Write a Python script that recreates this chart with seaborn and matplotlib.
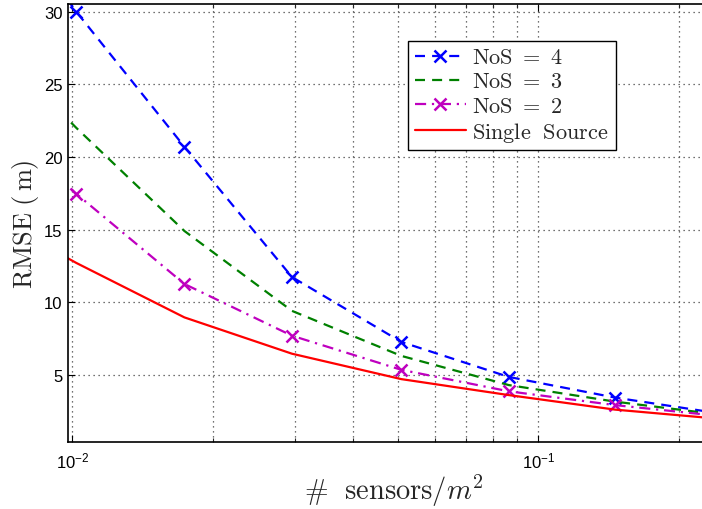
import numpy as np
import pandas as pd
import matplotlib
matplotlib.use("Agg")
import matplotlib.pyplot as plt
import seaborn as sns
from matplotlib.ticker import LogLocator, NullFormatter, FixedLocator

# ---- data ----
density = [0.0060, 0.0102, 0.0174, 0.0296, 0.0508, 0.0864, 0.146, 0.248]
rmse_nos4 = [40.0, 30.0, 20.7, 11.73, 7.26, 4.85, 3.43, 2.31]
rmse_nos3 = [29.5, 22.0, 14.9, 9.4, 6.3, 4.29, 3.15, 2.23]
rmse_nos2 = [24.4, 17.46, 11.25, 7.69, 5.34, 3.86, 2.91, 2.14]
rmse_single = [16.8, 12.7, 8.95, 6.45, 4.7, 3.6, 2.6, 1.95]

series_labels = [r"$\mathrm{NoS}\ =\ 4$", r"$\mathrm{NoS}\ =\ 3$",
                 r"$\mathrm{NoS}\ =\ 2$", r"$\mathrm{Single\ \ Source}\ \ $"]
y_ticks = [5, 10, 15, 20, 25, 30]
x_ticks = [0.01, 0.1]

sns.set_theme(style="white")
plt.rcParams["font.family"] = ["Liberation Sans", "DejaVu Sans"]
plt.rcParams["mathtext.fontset"] = "cm"

fig = plt.figure(figsize=(7.02, 5.10), dpi=100)
# the plotting box runs slightly past the right edge of the image
ax = fig.add_axes([68 / 702, 1 - 443 / 510, (720 - 68) / 702, (443 - 4.7) / 510])

styles = [
    dict(color=(0, 0, 1), linestyle=(0, (4.5, 3.2)), marker="x"),
    dict(color=(0, 0.5, 0), linestyle=(0, (4.5, 3.2)), marker=None),
    dict(color=(0.75, 0, 0.75), linestyle=(0, (5, 2.6, 1, 2.6)), marker="x"),
    dict(color=(1, 0, 0), linestyle="-", marker=None),
]
all_series = [rmse_nos4, rmse_nos3, rmse_nos2, rmse_single]

for vals, lab, st in zip(all_series, series_labels, styles):
    df = pd.DataFrame({"x": density, "y": vals})
    kw = dict(color=st["color"], linestyle=st["linestyle"], linewidth=1.6, label=lab)
    if st["marker"]:
        kw.update(marker="x", markersize=9, markeredgewidth=1.8,
                  markeredgecolor=st["color"])
    sns.lineplot(data=df, x="x", y="y", ax=ax, sort=False, estimator=None, **kw)

ax.set_xscale("log")
ax.set_xlim(0.00979, 0.2453)
ax.set_ylim(0.37, 30.55)
ax.set_yticks(y_ticks)
ax.xaxis.set_major_locator(FixedLocator(x_ticks))
ax.xaxis.set_minor_locator(LogLocator(base=10, subs=np.arange(2, 10)))
ax.xaxis.set_minor_formatter(NullFormatter())

ax.grid(True, which="major", axis="both", linestyle=(0, (1, 3)), color="#444444", linewidth=0.9)
ax.grid(True, which="minor", axis="x", linestyle=(0, (1, 3)), color="#444444", linewidth=0.9)

ax.tick_params(axis="both", which="major", direction="in", length=5, width=0.8,
               labelsize=12, colors="black", top=True, bottom=True, left=True)
ax.tick_params(axis="x", which="minor", direction="in", length=3, width=0.8,
               top=True, bottom=True)
ax.tick_params(axis="y", pad=4)
ax.tick_params(axis="x", pad=6)

for side in ["left", "top", "bottom"]:
    ax.spines[side].set_visible(True)
    ax.spines[side].set_color("black")
    ax.spines[side].set_linewidth(1.2)
ax.spines["right"].set_visible(False)

ax.set_xlabel(r"$\#\ \ \mathrm{sensors}/m^2$", fontsize=20.5, labelpad=1)
ax.set_ylabel(r"$\mathrm{RMSE\ (\,m)}$", fontsize=19, labelpad=2)

leg = ax.legend(loc="upper left", bbox_to_anchor=(408 / 702, 1 - 41.7 / 510),
                bbox_transform=fig.transFigure, borderaxespad=0, fontsize=16,
                frameon=True, fancybox=False, edgecolor="black", framealpha=1,
                handlelength=2.3, handletextpad=0.3, labelspacing=0.14,
                borderpad=0.3, numpoints=1)
leg.get_frame().set_linewidth(1.0)

fig.savefig("out.png", dpi=100, facecolor="white")
